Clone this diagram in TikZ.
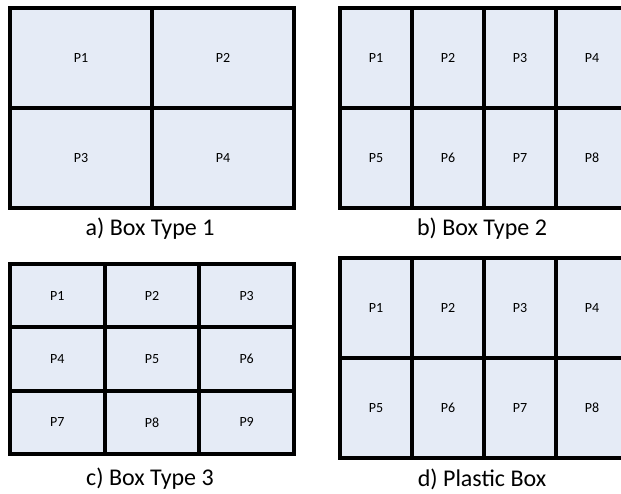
\documentclass[tikz,border=0pt]{standalone}
\usepackage{fontspec}
\setmainfont{Carlito}
\definecolor{cellfill}{RGB}{229,235,246}
\tikzset{
  cell/.style={draw=black, fill=cellfill, line width=4pt, rectangle, inner sep=0pt, outer sep=0pt, font=\fontsize{14}{14}\selectfont},
  caption/.style={font=\fontsize{24}{24}\selectfont, inner sep=0pt}
}
\begin{document}
\begin{tikzpicture}[x=1pt,y=-1pt]
\useasboundingbox (0,0) rectangle (621,493);
\clip (0,0) rectangle (621,493);
% a) Box Type 1: 2x2
\foreach \r in {0,1}{
  \foreach \c in {0,1}{
    \pgfmathtruncatemacro{\n}{\r*2+\c+1}
    \node[cell, minimum width=142pt, minimum height=100pt] (a\n) at ({10+71+142*\c},{8+50+100*\r}) {P\n};
  }
}
\node[caption] (capa) at (150,229) {a) Box Type 1};
% b) Box Type 2: 2x4
\foreach \r in {0,1}{
  \foreach \c in {0,1,2,3}{
    \pgfmathtruncatemacro{\n}{\r*4+\c+1}
    \node[cell, minimum width=72pt, minimum height=100pt] (b\n) at ({340+36+72*\c},{8+50+100*\r}) {P\n};
  }
}
\node[caption] (capb) at (482,229) {b) Box Type 2};
% c) Box Type 3: 3x3
\foreach \r in {0,1,2}{
  \foreach \c in {0,1,2}{
    \pgfmathtruncatemacro{\n}{\r*3+\c+1}
    \node[cell, minimum width=94.67pt, minimum height=63.33pt] (c\n) at ({10+47.33+94.67*\c},{264+31.67+63.33*\r}) {P\n};
  }
}
\node[caption] (capc) at (150,479) {c) Box Type 3};
% d) Plastic Box: 2x4
\foreach \r in {0,1}{
  \foreach \c in {0,1,2,3}{
    \pgfmathtruncatemacro{\n}{\r*4+\c+1}
    \node[cell, minimum width=72pt, minimum height=100pt] (d\n) at ({340+36+72*\c},{258+50+100*\r}) {P\n};
  }
}
\node[caption] (capd) at (482,479) {d) Plastic Box};
\end{tikzpicture}
\end{document}
